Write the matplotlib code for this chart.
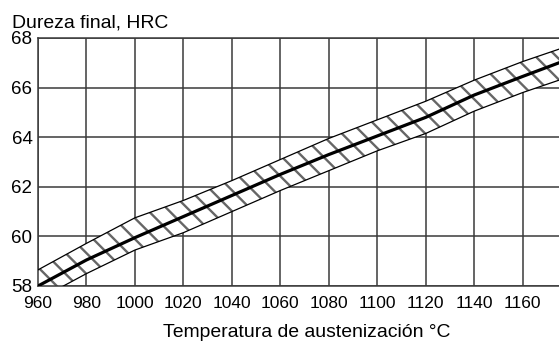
import matplotlib
matplotlib.use("Agg")
import matplotlib.pyplot as plt

DPI = 125
S = 100 / DPI  # keeps sizes as if drawn at 100 dpi

plt.rcParams['font.family'] = ['Liberation Sans', 'DejaVu Sans']
plt.rcParams['hatch.color'] = '#666666'
plt.rcParams['hatch.linewidth'] = 1.7 * S

temps = [960, 980, 1000, 1020, 1040, 1060, 1080, 1100, 1120, 1140, 1160, 1175]
center = [58.0, 59.05, 59.95, 60.8, 61.65, 62.5, 63.3, 64.05, 64.8, 65.7, 66.45, 67.0]
upper = [58.65, 59.72, 60.75, 61.45, 62.25, 63.1, 63.95, 64.7, 65.45, 66.3, 67.05, 67.55]
lower = [57.45, 58.5, 59.45, 60.15, 61.0, 61.85, 62.65, 63.45, 64.15, 65.05, 65.8, 66.3]

xticks = [960, 980, 1000, 1020, 1040, 1060, 1080, 1100, 1120, 1140, 1160]
yticks = [58, 60, 62, 64, 66, 68]

fig = plt.figure(figsize=(559 / DPI, 344 / DPI), dpi=DPI)
ax = fig.add_axes([38/559, 1-286/344, 1-38/559, (286-38)/344])

ax.set_xlim(960, 1175)
ax.set_ylim(58, 68)
ax.set_xticks(xticks)
ax.set_yticks(yticks)
ax.tick_params(length=0)
ax.tick_params(axis='y', labelsize=13.5 * S, pad=4 * S)
ax.tick_params(axis='x', labelsize=12.5 * S, pad=7 * S)
ax.grid(True, color='#3a3a3a', linewidth=1.1 * S)
ax.set_axisbelow(True)
for s in ['left', 'bottom', 'top']:
    ax.spines[s].set_color('#3a3a3a')
    ax.spines[s].set_linewidth(1.1 * S)
ax.spines['right'].set_visible(False)

ax.fill_between(temps, lower, upper, facecolor='white', hatch='\\\\',
                edgecolor='#666666', linewidth=0, zorder=2)
ax.plot(temps, upper, color='black', linewidth=0.9 * S, zorder=3)
ax.plot(temps, lower, color='black', linewidth=0.9 * S, zorder=3)
ax.plot(temps, center, color='black', linewidth=2.3 * S, zorder=4)

fig.text(12/559, 1-27/344, 'Dureza final, HRC', fontsize=14 * S, ha='left', va='baseline')
ax.set_xlabel('Temperatura de austenización °C', fontsize=14 * S)
ax.xaxis.set_label_coords((306.5-38)/(559-38), -(337-286)/(286-38), transform=ax.transAxes)
ax.xaxis.label.set_va('baseline')

fig.savefig('out.png', dpi=DPI)
